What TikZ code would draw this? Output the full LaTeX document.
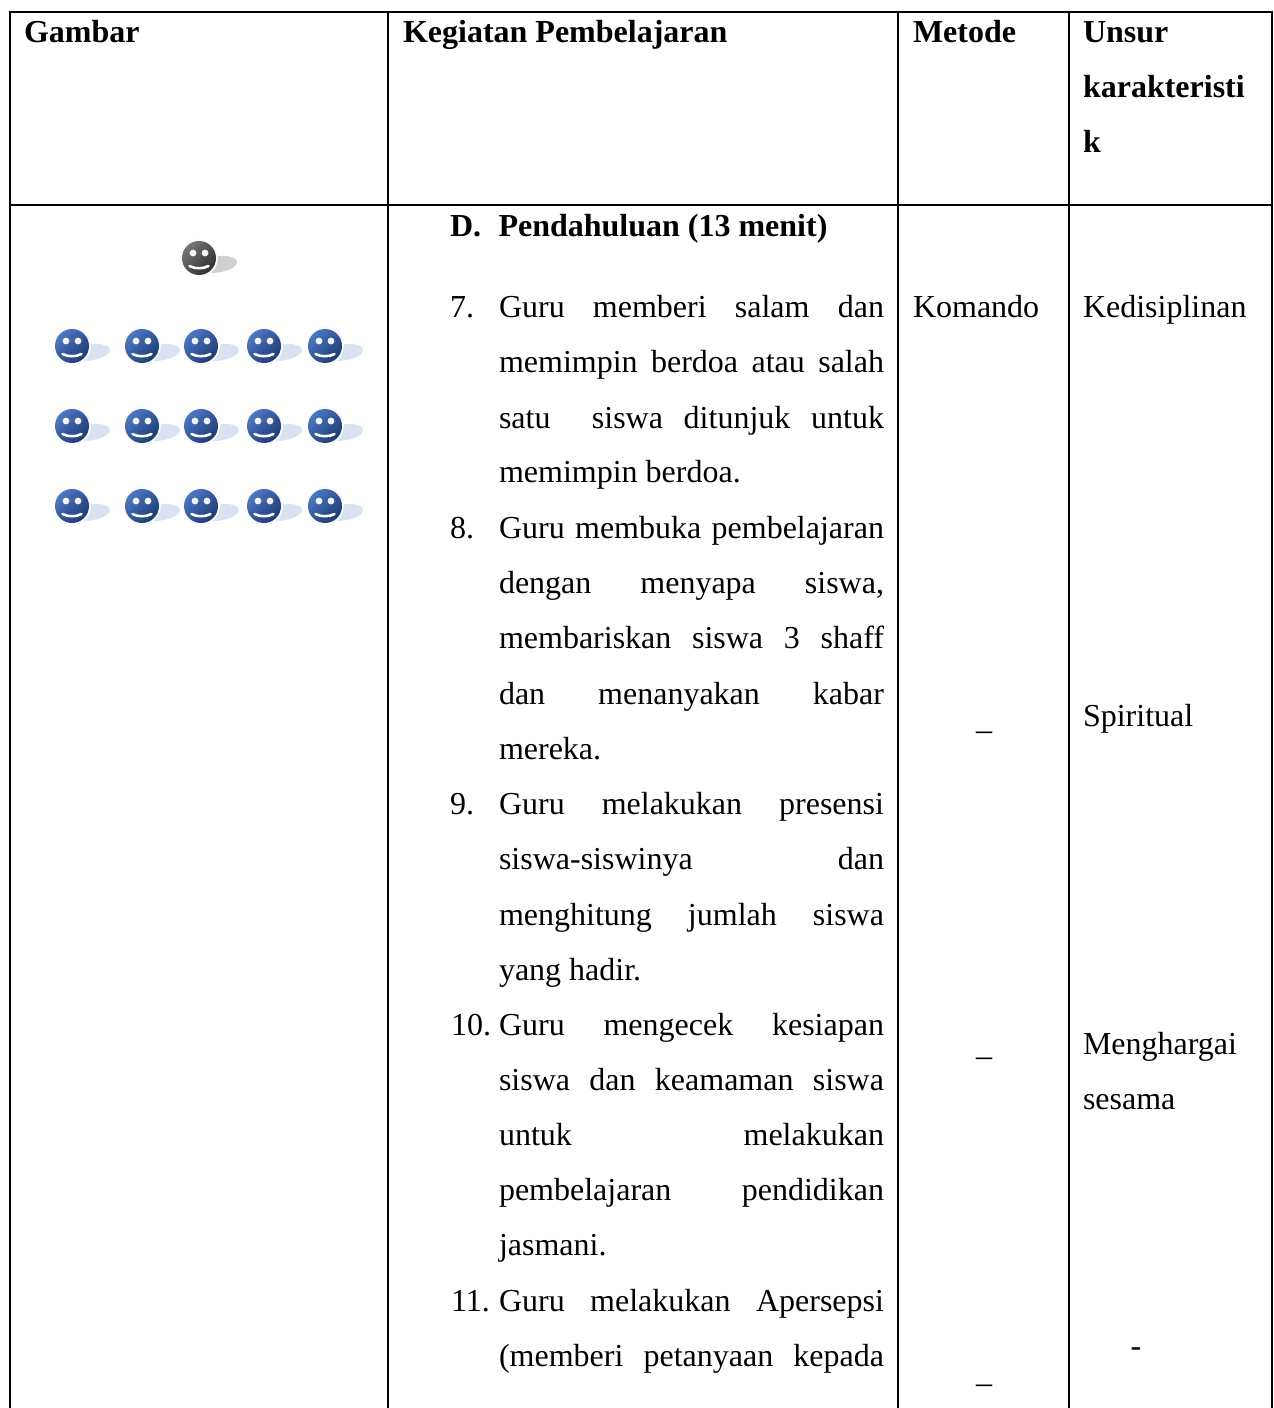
\documentclass[tikz,border=0pt]{standalone}
\usepackage{fontspec}
\setmainfont{Liberation Serif}
\definecolor{bluelight}{HTML}{4A78C8}
\definecolor{bluedark}{HTML}{1F3A72}
\definecolor{bluesh}{HTML}{D9E2F3}
\definecolor{graylight}{HTML}{767676}
\definecolor{graydark}{HTML}{2E2E2E}
\definecolor{graysh}{HTML}{D0D0D0}
\newcommand{\J}[1]{\makebox[288.75pt][s]{#1}}
\tikzset{
  x=0.75pt, y=-0.75pt,
  grid/.style={line width=1.5pt, black},
  txt/.style={anchor=base west, inner sep=0pt, outer sep=0pt, font=\fontsize{24}{24}\selectfont, text=black},
  bld/.style={txt, font=\fontsize{24}{24}\selectfont\bfseries},
  ctr/.style={txt, anchor=base},
  pics/smiley/.style n args={3}{code={
    \fill[#3] (6,15) .. controls (24,16) and (38,10) .. (38,4) .. controls (38,-2) and (22,-4) .. (12,0) -- cycle;
    \fill[white!95!gray] (0,0) circle (19);
    \shade[top color=#1, bottom color=#2, shading angle=45] (0,0) circle (17);
    \fill[white!92!gray] (-6,-5) circle (3.4);
    \fill[white!92!gray] (6,-5) circle (3.4);
    \draw[white, line width=1.9pt, line cap=round] (-9.5,8) .. controls (-4,11) and (4,11) .. (9.5,8);
  }},
}
\begin{document}
\begin{tikzpicture}
\useasboundingbox (0,0) rectangle (1273,1408);
% table grid
\draw[grid] (10,12) rectangle (1272,1420);
\draw[grid] (10,205) -- (1272,205);
\draw[grid] (388,12) -- (388,1420);
\draw[grid] (898,12) -- (898,1420);
\draw[grid] (1069,12) -- (1069,1420);
% header
\node[bld] (h1) at (24,43) {Gambar};
\node[bld] (h2) at (403,43) {Kegiatan Pembelajaran};
\node[bld] (h3) at (913,43) {Metode};
\node[bld] (h4a) at (1083,43) {Unsur};
\node[bld] (h4b) at (1083,98) {karakteristi};
\node[bld] (h4c) at (1083,153) {k};
% smileys
\pic at (199,258) {smiley={graylight}{graydark}{graysh}};
\foreach \yy in {346,426,506}
  \foreach \xx in {72,142,201,264,325}
    \pic at (\xx,\yy) {smiley={bluelight}{bluedark}{bluesh}};
% section heading
\node[bld] (dn) at (450,237) {D.};
\node[bld] (dt) at (498.5,237) {Pendahuluan (13 menit)};
% item 7
\node[txt] (n7) at (450,318) {7.};
\node[txt] (l1) at (499,318) {\J{Guru memberi salam dan}};
\node[txt] (l2) at (499,373) {\J{memimpin berdoa atau salah}};
\node[txt] (l3) at (499,428) {\J{satu\ \ siswa ditunjuk untuk}};
\node[txt] (l4) at (499,482.5) {memimpin berdoa.};
% item 8
\node[txt] (n8) at (450,538) {8.};
\node[txt] (l5) at (499,538) {\J{Guru membuka pembelajaran}};
\node[txt] (l6) at (499,593) {\J{dengan menyapa siswa,}};
\node[txt] (l7) at (499,648) {\J{membariskan siswa 3 shaff}};
\node[txt] (l8) at (499,704) {\J{dan menanyakan kabar}};
\node[txt] (l9) at (499,759) {mereka.};
% item 9
\node[txt] (n9) at (450,814.5) {9.};
\node[txt] (l10) at (499,814.5) {\J{Guru melakukan presensi}};
\node[txt] (l11) at (499,869.5) {\J{siswa-siswinya dan}};
\node[txt] (l12) at (499,925) {\J{menghitung jumlah siswa}};
\node[txt] (l13) at (499,980) {yang hadir.};
% item 10
\node[txt] (n10) at (451,1035) {10.};
\node[txt] (l14) at (499,1035) {\J{Guru mengecek kesiapan}};
\node[txt] (l15) at (499,1090) {\J{siswa dan keamaman siswa}};
\node[txt] (l16) at (499,1145) {\J{untuk melakukan}};
\node[txt] (l17) at (499,1200) {\J{pembelajaran pendidikan}};
\node[txt] (l18) at (499,1255.5) {jasmani.};
% item 11
\node[txt] (n11) at (451,1311) {11.};
\node[txt] (l19) at (499,1311) {\J{Guru melakukan Apersepsi}};
\node[txt] (l20) at (499,1366) {\J{(memberi petanyaan kepada}};
% metode
\node[txt] (m1) at (913,318) {Komando};
\node[ctr] (m2) at (984,729.5) {\_};
\node[ctr] (m3) at (984,1055.5) {\_};
\node[ctr] (m4) at (984,1382.5) {\_};
% unsur
\node[txt] (u1) at (1083,318) {Kedisiplinan};
\node[txt] (u2) at (1083,726) {Spiritual};
\node[txt] (u3) at (1083,1054) {Menghargai};
\node[txt] (u4) at (1083,1109) {sesama};
\node[ctr] (u5) at (1136,1356) {-};
\end{tikzpicture}
\end{document}
